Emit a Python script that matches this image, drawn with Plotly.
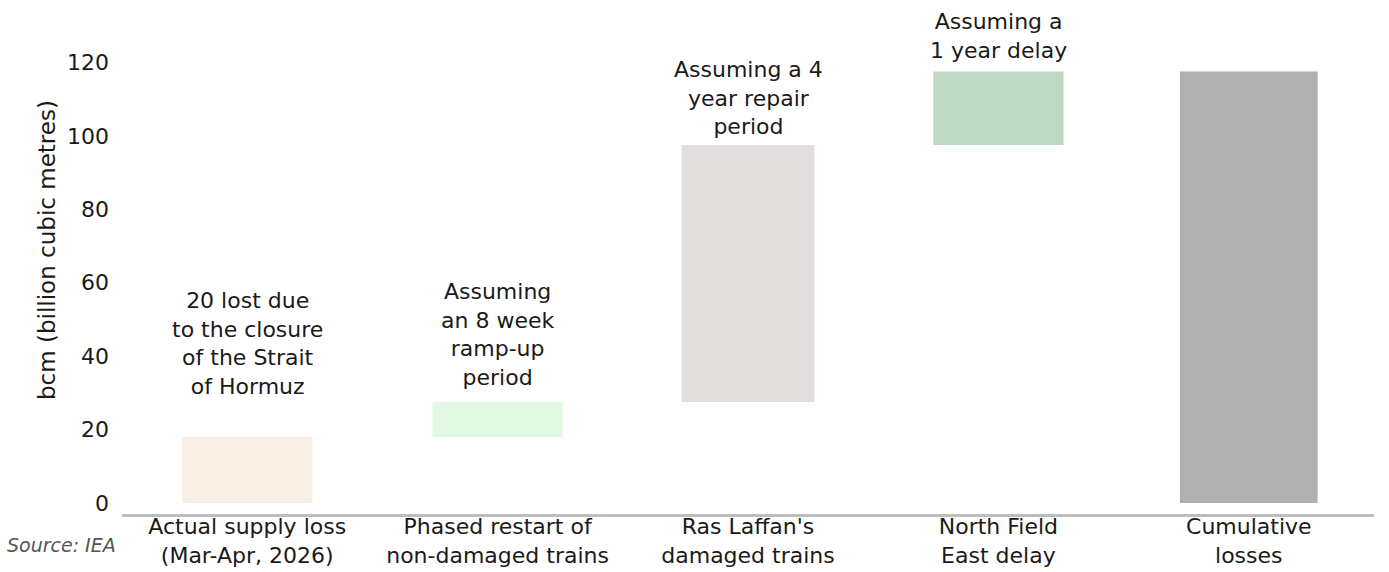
import plotly.graph_objects as go

categories = ["Actual supply loss<br>(Mar-Apr, 2026)",
              "Phased restart of<br>non-damaged trains",
              "Ras Laffan's<br>damaged trains",
              "North Field<br>East delay",
              "Cumulative<br>losses"]
step_values = [18, 9.5, 70, 20]
notes = ["20 lost due<br>to the closure<br>of the Strait<br>of Hormuz",
         "Assuming<br>an 8 week<br>ramp-up<br>period",
         "Assuming a 4<br>year repair<br>period",
         "Assuming a<br>1 year delay",
         ""]
y_ticks = [0, 20, 40, 60, 80, 100, 120]
y_title = "bcm (billion cubic metres)"
source_text = "Source: IEA"

# build floating bars
bases = []
running = 0
for v in step_values:
    bases.append(running)
    running += v
total = running
values = step_values + [total]
bases = bases + [0]
tops = [b + v for b, v in zip(bases, values)]

colors = ["#F8EFE4", "#E2F8E3", "#E1DEDD", "#BED8C4", "#B0B0B0"]
widths = [0.52, 0.52, 0.53, 0.52, 0.55]
note_shift = [36, 10, 4, 7, 0]

FONT = "DejaVu Sans"
FS = 22
W, H = 1389, 572
ML, MR, MT, MB = 122, 15, 44, 58
PW = W - ML - MR
PH = H - MT - MB

fig = go.Figure()
fig.add_trace(go.Bar(x=categories, y=values, base=bases, width=widths,
                     marker=dict(color=colors, line=dict(width=0)),
                     hoverinfo="skip", showlegend=False))

for c, t, n, s in zip(categories, tops, notes, note_shift):
    if n:
        fig.add_annotation(x=c, y=t, text=n, showarrow=False, yanchor="bottom",
                           yshift=s, font=dict(family=FONT, size=FS, color="#1a1a1a"))

# source note
fig.add_annotation(xref="paper", yref="paper", x=(5 - ML) / PW, y=(H - MB - 545) / PH,
                   xanchor="left", yanchor="middle", text="<i>" + source_text + "</i>",
                   showarrow=False, font=dict(family=FONT, size=19, color="#555555"))
# y-axis title
fig.add_annotation(xref="paper", yref="paper", x=(47 - ML) / PW, y=(H - MB - 250) / PH,
                   xanchor="center", yanchor="middle", text=y_title, textangle=-90,
                   showarrow=False, font=dict(family=FONT, size=23, color="#1a1a1a"))

fig.update_layout(
    width=W, height=H,
    margin=dict(l=ML, r=MR, t=MT, b=MB),
    plot_bgcolor="white", paper_bgcolor="white",
    font=dict(family=FONT, size=FS, color="#1a1a1a"),
    xaxis=dict(showgrid=False, showline=True, linecolor="#BDBDBD", linewidth=3,
               ticks="", tickfont=dict(size=FS), automargin=False,
               ticklabelstandoff=-9),
    yaxis=dict(range=[-3, 125], tickvals=y_ticks, showgrid=False, zeroline=False,
               showline=False, ticks="", ticklabelstandoff=12, automargin=False),
)
fig.write_html("out.html", config={"displayModeBar": False},
               post_script="document.body.style.margin='0';")
